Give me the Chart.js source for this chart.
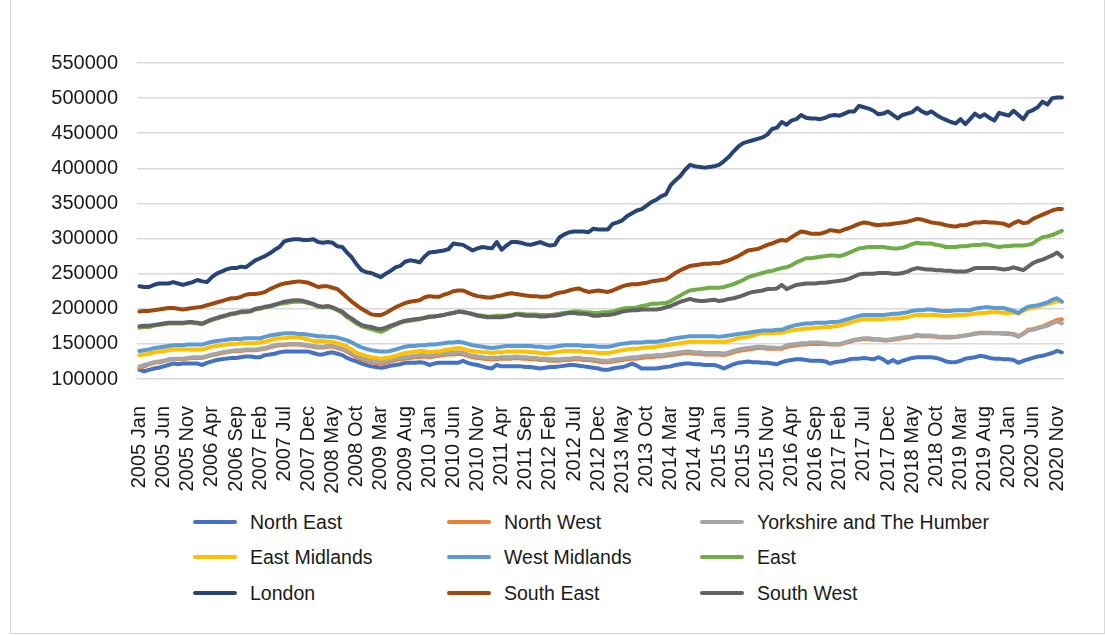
<!DOCTYPE html>
<html lang="en">
<head>
<meta charset="UTF-8">
<title>Average house prices by region, 2005-2020</title>
<script src="https://cdn.jsdelivr.net/npm/chart.js@4.4.1/dist/chart.umd.min.js"></script>
<style>
  html, body { margin: 0; padding: 0; background: #fff; }
  body { width: 1105px; height: 635px; position: relative; overflow: hidden; font-family: "Liberation Sans", Arial, sans-serif; }
  .frame { position: absolute; left: 10px; top: -1px; width: 1093px; height: 633px; border: 1px solid #d9d9d9; pointer-events: none; }
  .chart-box { position: absolute; left: 0; top: 0; width: 1105px; height: 500px; }
  .legend-item { position: absolute; height: 24px; line-height: 24px; display: flex; align-items: center; font-size: 19.5px; color: #1a1a1a; white-space: nowrap; }
  .legend-item .swatch { width: 44px; height: 4px; border-radius: 2px; margin-right: 13px; }
</style>
</head>
<body>
<div class="chart-box"><canvas id="priceChart"></canvas></div>
<div id="legend"></div>
<div class="frame"></div>

<script>
// categories: one point per month, 2005 Jan .. 2020 Dec
var years = [2005, 2006, 2007, 2008, 2009, 2010, 2011, 2012, 2013, 2014, 2015, 2016, 2017, 2018, 2019, 2020];
var monthNames = ["Jan", "Feb", "Mar", "Apr", "May", "Jun", "Jul", "Aug", "Sep", "Oct", "Nov", "Dec"];
var labels = [];
years.forEach(function (y) {
  monthNames.forEach(function (m) { labels.push(y + " " + m); });
});

var yTicks = [100000, 150000, 200000, 250000, 300000, 350000, 400000, 450000, 500000, 550000];

// one row per year
var northEast = [
  113000,111000,113000,115000,116000,118000,120000,122000,121000,122000,122000,122000,
  122000,120000,123000,125000,127000,128000,129000,130000,130000,131000,132000,132000,
  131000,131000,134000,135000,136000,138000,139000,139000,139000,139000,139000,139000,
  137000,135000,135000,137000,138000,136000,134000,130000,127000,125000,122000,120000,
  118000,117000,116000,117000,119000,120000,121000,123000,123000,123000,124000,123000,
  120000,122000,123000,123000,123000,123000,123000,126000,123000,121000,120000,118000,
  116000,115000,120000,118000,118000,118000,118000,118000,117000,117000,116000,115000,
  116000,117000,117000,118000,119000,120000,120000,119000,118000,117000,116000,115000,
  113000,113000,115000,116000,117000,119000,122000,119000,115000,115000,115000,115000,
  116000,117000,118000,120000,121000,122000,122000,121000,121000,120000,120000,120000,
  118000,115000,118000,121000,123000,124000,125000,124000,124000,123000,123000,122000,
  121000,124000,126000,127000,128000,128000,127000,126000,126000,126000,125000,122000,
  124000,125000,126000,128000,129000,129000,130000,129000,128000,131000,128000,123000,
  127000,123000,126000,128000,130000,131000,131000,131000,131000,130000,128000,125000,
  124000,124000,126000,129000,130000,131000,133000,132000,130000,129000,129000,128000,
  128000,127000,123000,126000,128000,130000,132000,133000,135000,137000,140000,138000
];
var northWest = [
  116000,118000,121000,123000,124000,125000,127000,128000,128000,128000,129000,130000,
  130000,130000,132000,134000,135000,137000,138000,139000,140000,140000,141000,141000,
  141000,142000,143000,145000,147000,148000,148000,149000,149000,149000,148000,147000,
  146000,145000,145000,146000,146000,144000,142000,139000,135000,131000,128000,126000,
  124000,123000,122000,123000,125000,127000,128000,129000,130000,131000,131000,132000,
  131000,132000,133000,134000,135000,135000,136000,135000,133000,131000,130000,129000,
  128000,128000,128000,129000,129000,129000,130000,129000,129000,128000,128000,127000,
  127000,126000,126000,126000,127000,127000,128000,128000,127000,127000,126000,125000,
  124000,124000,125000,126000,127000,128000,129000,129000,130000,131000,131000,132000,
  132000,133000,134000,135000,136000,137000,137000,136000,136000,135000,135000,135000,
  135000,134000,136000,138000,140000,141000,142000,143000,144000,144000,143000,143000,
  143000,143000,146000,147000,148000,149000,149000,150000,150000,150000,150000,149000,
  149000,149000,151000,153000,155000,156000,157000,157000,156000,156000,155000,155000,
  156000,157000,158000,159000,160000,162000,161000,161000,161000,160000,159000,159000,
  159000,160000,161000,162000,163000,165000,166000,166000,166000,165000,165000,165000,
  165000,164000,161000,165000,170000,171000,173000,175000,178000,181000,184000,185000
];
var yorkshire = [
  118000,120000,122000,124000,125000,126000,128000,129000,129000,129000,130000,131000,
  131000,131000,133000,135000,136000,138000,139000,140000,141000,141000,142000,142000,
  142000,143000,144000,146000,148000,149000,149000,150000,150000,150000,149000,148000,
  147000,146000,146000,147000,147000,145000,143000,141000,137000,133000,130000,128000,
  126000,125000,124000,125000,127000,129000,130000,131000,132000,133000,134000,134000,
  133000,134000,135000,136000,137000,137000,138000,137000,135000,133000,132000,131000,
  130000,130000,130000,131000,131000,131000,132000,131000,131000,130000,130000,129000,
  129000,128000,128000,128000,129000,129000,130000,130000,129000,129000,128000,127000,
  126000,126000,127000,128000,129000,130000,131000,131000,132000,133000,133000,134000,
  134000,135000,136000,137000,138000,139000,139000,138000,138000,137000,137000,137000,
  137000,136000,138000,140000,142000,143000,144000,145000,146000,146000,145000,145000,
  144000,144000,148000,149000,150000,151000,151000,152000,152000,152000,151000,150000,
  150000,150000,152000,154000,156000,157000,158000,158000,157000,157000,156000,156000,
  157000,158000,159000,160000,161000,163000,162000,162000,162000,161000,160000,160000,
  160000,160000,161000,162000,163000,164000,165000,165000,165000,165000,165000,164000,
  164000,163000,160000,164000,169000,170000,172000,174000,176000,179000,182000,179000
];
var eastMidlands = [
  134000,135000,136000,138000,139000,140000,141000,142000,142000,142000,142000,142000,
  142000,142000,144000,146000,147000,148000,149000,150000,150000,151000,151000,151000,
  151000,152000,153000,155000,157000,158000,158000,159000,159000,159000,158000,156000,
  154000,154000,154000,153000,153000,151000,149000,146000,142000,137000,135000,133000,
  131000,130000,129000,130000,131000,133000,135000,137000,138000,139000,140000,140000,
  138000,139000,139000,141000,142000,143000,144000,143000,141000,140000,139000,138000,
  138000,137000,138000,138000,139000,139000,139000,139000,139000,138000,138000,137000,
  136000,137000,138000,139000,140000,140000,140000,140000,139000,138000,138000,137000,
  137000,137000,138000,140000,141000,142000,143000,143000,144000,145000,145000,146000,
  147000,148000,149000,150000,151000,152000,153000,153000,153000,153000,153000,153000,
  153000,153000,154000,156000,158000,159000,160000,162000,164000,165000,165000,165000,
  166000,166000,168000,169000,170000,171000,172000,172000,173000,173000,174000,174000,
  175000,176000,178000,180000,182000,184000,185000,185000,185000,185000,185000,186000,
  186000,186000,187000,188000,190000,191000,191000,191000,191000,191000,190000,190000,
  190000,191000,191000,191000,192000,193000,194000,194000,195000,195000,195000,194000,
  194000,195000,193000,197000,200000,201000,203000,205000,207000,209000,211000,210000
];
var westMidlands = [
  140000,141000,142000,144000,145000,146000,147000,148000,148000,148000,149000,149000,
  149000,149000,151000,153000,154000,155000,156000,157000,157000,157000,158000,158000,
  158000,158000,160000,162000,163000,164000,165000,165000,165000,164000,164000,163000,
  162000,161000,161000,160000,160000,159000,157000,155000,152000,148000,145000,143000,
  141000,140000,139000,139000,140000,142000,144000,146000,147000,147000,148000,148000,
  149000,149000,150000,151000,152000,152000,153000,152000,150000,148000,147000,146000,
  145000,144000,145000,146000,147000,147000,147000,147000,147000,147000,146000,146000,
  145000,145000,146000,147000,148000,148000,148000,148000,147000,147000,147000,146000,
  146000,146000,147000,149000,150000,151000,152000,152000,152000,153000,153000,153000,
  154000,155000,157000,158000,159000,160000,161000,161000,161000,161000,161000,161000,
  160000,161000,162000,163000,164000,165000,166000,167000,168000,169000,169000,169000,
  170000,170000,173000,175000,177000,178000,179000,179000,180000,180000,180000,181000,
  181000,182000,184000,186000,188000,190000,191000,191000,191000,191000,191000,192000,
  193000,193000,194000,195000,197000,198000,198000,199000,199000,198000,197000,197000,
  197000,198000,198000,198000,198000,200000,201000,202000,202000,201000,201000,201000,
  199000,197000,194000,199000,203000,204000,205000,207000,209000,213000,215000,210000
];
var east = [
  173000,174000,174000,176000,177000,178000,179000,179000,179000,179000,180000,180000,
  179000,178000,181000,184000,186000,188000,190000,192000,193000,195000,195000,196000,
  199000,200000,202000,203000,205000,207000,208000,209000,210000,210000,210000,208000,
  206000,203000,202000,203000,201000,198000,194000,188000,184000,179000,175000,173000,
  171000,169000,167000,170000,174000,177000,180000,182000,183000,184000,185000,187000,
  188000,189000,190000,191000,193000,194000,196000,196000,194000,193000,191000,190000,
  189000,189000,190000,190000,190000,191000,193000,193000,192000,192000,192000,191000,
  191000,191000,192000,193000,194000,195000,196000,196000,195000,195000,194000,194000,
  195000,195000,196000,198000,200000,201000,201000,202000,204000,205000,207000,207000,
  208000,208000,211000,215000,219000,223000,226000,227000,228000,229000,230000,230000,
  230000,231000,233000,235000,238000,241000,245000,247000,249000,251000,253000,254000,
  256000,258000,259000,262000,266000,269000,272000,272000,273000,274000,275000,276000,
  276000,275000,277000,280000,283000,286000,287000,288000,288000,288000,288000,287000,
  286000,286000,287000,289000,292000,294000,293000,293000,293000,291000,290000,288000,
  288000,288000,289000,289000,290000,291000,291000,292000,291000,289000,288000,289000,
  289000,290000,290000,290000,291000,293000,298000,302000,303000,305000,308000,311000
];
var london = [
  232000,231000,231000,234000,236000,236000,236000,238000,236000,234000,236000,238000,
  241000,239000,238000,245000,250000,253000,256000,258000,258000,260000,259000,264000,
  269000,272000,275000,279000,284000,288000,296000,298000,299000,299000,298000,298000,
  299000,295000,294000,295000,294000,289000,288000,280000,273000,263000,255000,252000,
  251000,248000,245000,250000,254000,259000,261000,267000,269000,268000,266000,274000,
  280000,281000,282000,283000,285000,293000,292000,291000,287000,283000,286000,288000,
  287000,286000,295000,284000,290000,295000,295000,294000,292000,291000,293000,295000,
  292000,290000,291000,302000,306000,309000,310000,310000,310000,309000,314000,313000,
  313000,313000,321000,323000,326000,332000,336000,340000,342000,347000,352000,355000,
  360000,363000,376000,383000,389000,398000,405000,403000,402000,401000,402000,403000,
  405000,410000,416000,424000,431000,436000,438000,440000,442000,444000,448000,456000,
  458000,466000,462000,468000,470000,476000,472000,471000,471000,470000,472000,475000,
  476000,475000,478000,481000,481000,489000,487000,485000,482000,477000,478000,481000,
  476000,471000,476000,478000,480000,486000,481000,478000,481000,476000,472000,469000,
  466000,464000,470000,463000,470000,478000,473000,477000,472000,468000,479000,477000,
  475000,482000,476000,470000,480000,483000,487000,495000,491000,500000,501000,501000
];
var southEast = [
  196000,197000,197000,198000,199000,200000,201000,201000,200000,199000,200000,201000,
  202000,203000,205000,207000,209000,211000,213000,215000,215000,217000,220000,221000,
  221000,222000,224000,228000,231000,234000,236000,237000,238000,239000,238000,237000,
  234000,231000,232000,232000,230000,228000,222000,216000,210000,205000,200000,196000,
  192000,191000,191000,194000,198000,202000,205000,208000,210000,211000,212000,216000,
  218000,217000,217000,220000,222000,225000,226000,226000,223000,220000,218000,217000,
  216000,216000,218000,219000,221000,222000,221000,220000,219000,218000,218000,217000,
  217000,218000,221000,223000,224000,226000,228000,229000,226000,224000,225000,226000,
  225000,224000,226000,229000,232000,234000,235000,235000,236000,237000,239000,240000,
  241000,242000,246000,251000,255000,258000,261000,262000,263000,264000,264000,265000,
  265000,267000,269000,272000,275000,279000,283000,284000,285000,288000,291000,293000,
  296000,298000,297000,302000,306000,310000,309000,307000,307000,307000,309000,312000,
  311000,310000,313000,315000,318000,321000,323000,322000,320000,319000,320000,320000,
  321000,322000,323000,324000,326000,328000,327000,325000,323000,322000,321000,319000,
  318000,317000,319000,319000,321000,323000,323000,324000,323000,323000,322000,321000,
  318000,322000,325000,322000,323000,328000,331000,334000,337000,340000,342000,342000
];
var southWest = [
  175000,176000,176000,177000,178000,179000,180000,180000,180000,180000,181000,181000,
  180000,179000,182000,185000,187000,189000,191000,193000,194000,196000,196000,197000,
  200000,201000,203000,204000,206000,208000,210000,211000,212000,212000,211000,209000,
  207000,204000,203000,204000,202000,199000,196000,190000,186000,181000,177000,175000,
  174000,172000,171000,173000,176000,178000,181000,183000,184000,185000,186000,187000,
  189000,189000,190000,191000,193000,194000,196000,195000,194000,192000,190000,189000,
  188000,188000,188000,188000,189000,190000,192000,191000,190000,190000,190000,189000,
  189000,190000,190000,191000,193000,194000,194000,193000,193000,192000,190000,190000,
  191000,191000,192000,194000,196000,197000,198000,198000,199000,199000,199000,199000,
  200000,202000,204000,207000,210000,212000,214000,212000,211000,211000,212000,213000,
  211000,212000,214000,215000,217000,219000,222000,224000,225000,226000,228000,228000,
  229000,234000,228000,231000,234000,235000,236000,236000,236000,237000,237000,238000,
  239000,240000,241000,243000,246000,249000,250000,250000,250000,251000,251000,251000,
  250000,250000,251000,253000,256000,258000,257000,256000,256000,255000,255000,254000,
  254000,253000,253000,253000,255000,258000,258000,258000,258000,258000,257000,256000,
  257000,259000,257000,255000,260000,265000,268000,270000,273000,276000,280000,274000
];

var regions = ["North East", "North West", "Yorkshire and The Humber",
               "East Midlands", "West Midlands", "East",
               "London", "South East", "South West"];
var seriesList = [northEast, northWest, yorkshire, eastMidlands, westMidlands, east, london, southEast, southWest];
var colors = ["#4472C4", "#ED7D31", "#A5A5A5", "#FFC000", "#5B9BD5", "#70AD47", "#264478", "#9E480E", "#636363"];

var datasets = regions.map(function (name, i) {
  return {
    label: name,
    data: seriesList[i],
    borderColor: colors[i],
    backgroundColor: colors[i],
    borderWidth: 4,
    pointRadius: 0,
    pointHoverRadius: 0,
    tension: 0,
    borderJoinStyle: "round",
    borderCapStyle: "round",
    fill: false,
    order: regions.length - 1 - i   // later series sit on top, like the original
  };
});

var textColor = "#1a1a1a";
var tickFont = { family: "'Liberation Sans', Arial, sans-serif", size: 20 };

var ctx = document.getElementById("priceChart").getContext("2d");
var priceChart = new Chart(ctx, {
  type: "line",
  data: { labels: labels, datasets: datasets },
  options: {
    responsive: true,
    maintainAspectRatio: false,
    animation: false,
    layout: { padding: { top: 63, right: 38, left: 0, bottom: 0 } },
    plugins: {
      legend: { display: false },
      tooltip: { enabled: false }
    },
    scales: {
      x: {
        offset: true,
        grid: { display: false },
        border: { display: false },
        ticks: {
          autoSkip: false,
          minRotation: 90,
          maxRotation: 90,
          padding: 19,
          color: textColor,
          font: tickFont,
          callback: function (val, idx) {
            return idx % 5 === 0 ? labels[idx] : "";
          }
        },
        afterFit: function (scale) { scale.height = 121; }
      },
      y: {
        min: yTicks[0],
        max: yTicks[yTicks.length - 1],
        border: { display: false },
        grid: { color: "#d9d9d9", lineWidth: 1.5, drawTicks: false },
        ticks: {
          stepSize: yTicks[1] - yTicks[0],
          padding: 19,
          color: textColor,
          font: tickFont,
          callback: function (v) { return String(v); }
        },
        afterFit: function (scale) { scale.width = 137; }
      }
    }
  }
});

// legend: 3 columns x 3 rows under the chart
var legendCols = [193, 447, 700];
var legendRows = [522, 557, 593];
var legendBox = document.getElementById("legend");
regions.forEach(function (name, i) {
  var item = document.createElement("div");
  item.className = "legend-item";
  item.style.left = legendCols[i % 3] + "px";
  item.style.top = (legendRows[Math.floor(i / 3)] - 12) + "px";
  var sw = document.createElement("span");
  sw.className = "swatch";
  sw.style.background = colors[i];
  var txt = document.createElement("span");
  txt.textContent = name;
  item.appendChild(sw);
  item.appendChild(txt);
  legendBox.appendChild(item);
});
</script>
</body>
</html>
